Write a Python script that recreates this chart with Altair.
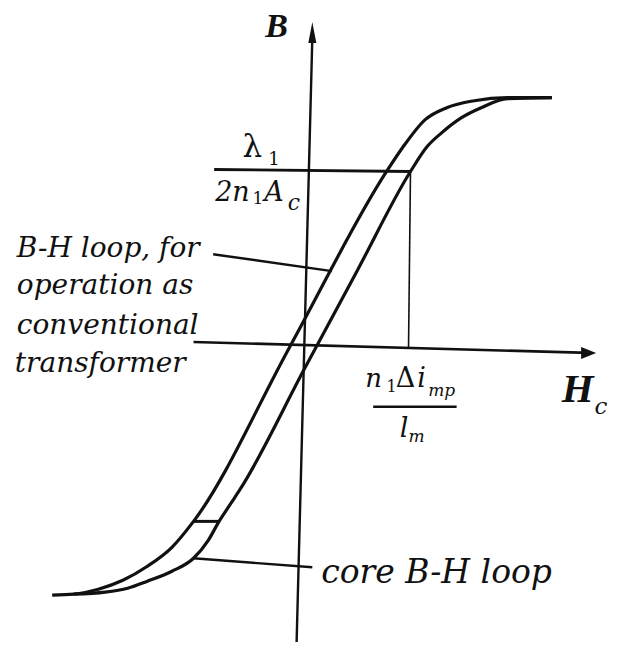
import altair as alt
import pandas as pd

# ---------------- data (normalised H, B units; origin at the axes' crossing) -------------
# left (descending) branch of the core B-H loop
left_H = [-2.57, -2.35, -2.10, -1.85, -1.60, -1.35, -1.13, -0.15, 0.83, 1.00, 1.23, 1.45, 1.73, 2.07, 2.52]
left_B = [-2.49, -2.48, -2.43, -2.34, -2.20, -2.01, -1.75, 0.00, 1.75, 2.00, 2.28, 2.40, 2.47, 2.50, 2.50]
# right (ascending) branch of the core B-H loop
right_H = [-2.35, -2.03, -1.80, -1.60, -1.35, -1.13, -0.98, -0.87, -0.75, -0.65, 0.00, 0.54, 1.08,
           1.25, 1.40, 1.60, 1.80, 2.07, 2.52]
right_B = [-2.48, -2.46, -2.42, -2.35, -2.25, -2.12, -1.94, -1.75, -1.57, -1.42, -0.22, 0.77, 1.76,
           2.01, 2.15, 2.30, 2.40, 2.49, 2.50]

# minor (transformer) loop closing segments: top and bottom
minor_top_H = [-0.92, 1.08]
minor_top_B = [1.78, 1.76]
minor_bot_H = [-1.13, -0.87]
minor_bot_B = [-1.75, -1.75]
# projection of the loop tip onto the H axis
tip_drop_H = [1.08, 1.06]
tip_drop_B = [1.76, -0.02]

# axes
B_axis_H = [0.08, -0.08]
B_axis_B = [3.10, -2.96]
H_axis_H = [-1.13, 2.90]
H_axis_B = [0.05, -0.06]

# leader lines
leader1_H = [-0.93, 0.28]
leader1_B = [0.93, 0.76]
leader2_H = [-1.13, 0.08]
leader2_B = [-2.12, -2.21]

# ---------------- frames --------------------------------------------------------------------
curves = pd.concat([
    pd.DataFrame({"H": left_H, "B": left_B, "branch": "left", "o": range(len(left_H))}),
    pd.DataFrame({"H": right_H, "B": right_B, "branch": "right", "o": range(len(right_H))}),
])

def seg(hs, bs, w):
    return {"H": hs[0], "B": bs[0], "H2": hs[1], "B2": bs[1], "w": w}

segments = pd.DataFrame([
    seg(minor_top_H, minor_top_B, 2.8),
    seg(minor_bot_H, minor_bot_B, 3.0),
    seg(tip_drop_H, tip_drop_B, 1.6),
    seg(B_axis_H, B_axis_B, 2.4),
    seg(H_axis_H, H_axis_B, 2.6),
    seg(leader1_H, leader1_B, 2.4),
    seg(leader2_H, leader2_B, 2.4),
])

xs = alt.Scale(domain=[-3.02, 2.98], nice=False, zero=False)
ys = alt.Scale(domain=[-2.96, 3.40], nice=False, zero=False)
X = alt.X("H:Q", scale=xs, axis=None)
Y = alt.Y("B:Q", scale=ys, axis=None)

ink = "#111111"

curve_layer = alt.Chart(curves).mark_line(
    interpolate="monotone", strokeWidth=3.2, color=ink
).encode(x=X, y=Y, detail="branch:N", order="o:Q")

seg_layer = alt.Chart(segments).mark_rule(color=ink).encode(
    x=X, y=Y, x2="H2:Q", y2="B2:Q", strokeWidth=alt.StrokeWidth("w:Q", scale=None)
)

arrow_up = alt.Chart(pd.DataFrame({"H": [0.08], "B": [3.155]})).mark_point(
    shape="M0,-1L0.38,1L-0.38,1Z", filled=True, fill=ink, stroke=None, opacity=1, size=441
).encode(x=X, y=Y)

arrow_right = alt.Chart(pd.DataFrame({"H": [2.895], "B": [-0.06]})).mark_point(
    shape="M1,0L-1,0.8L-1,-0.8Z", filled=True, fill=ink, stroke=None, opacity=1, size=225
).encode(x=X, y=Y)

# ---------------- text ----------------------------------------------------------------------
def text_layer(rows, font, style="normal", weight="normal"):
    df = pd.DataFrame(rows, columns=["t", "H", "B", "s"])
    return alt.Chart(df).mark_text(
        align="left", baseline="alphabetic", font=font, fontStyle=style,
        fontWeight=weight, color=ink
    ).encode(x=X, y=Y, text="t:N", size=alt.Size("s:Q", scale=None))

italic_rows = [
    ["B-H loop, for", -2.93, 0.90, 28],
    ["operation as", -2.93, 0.53, 28],
    ["conventional", -2.93, 0.13, 28],
    ["transformer", -2.95, -0.25, 28],
    ["core B-H loop", 0.17, -2.37, 33],
    ["2n", -0.91, 1.46, 27],
    ["A", -0.41, 1.46, 27],
    ["c", -0.17, 1.37, 22],
    ["n", 0.62, -0.40, 26],
    ["i", 1.15, -0.40, 27],
    ["mp", 1.26, -0.49, 17],
    ["l", 0.97, -0.90, 27],
    ["m", 1.06, -0.95, 17],
    ["c", 2.955, -0.67, 23],
]
upright_rows = [
    ["λ", -0.63, 1.91, 31],
    ["1", -0.37, 1.83, 18],
    ["1", -0.53, 1.43, 17],
    ["1", 0.835, -0.45, 16],
    ["Δ", 0.93, -0.40, 27],
]
bold_rows = [
    ["B", -0.40, 3.11, 34],
    ["H", 2.62, -0.55, 41],
]

frac_bar = alt.Chart(pd.DataFrame({"H": [0.70], "B": [-0.60], "H2": [1.55], "B2": [-0.60]})).mark_rule(
    color=ink, strokeWidth=2.4
).encode(x=X, y=Y, x2="H2:Q", y2="B2:Q")

chart = alt.layer(
    curve_layer,
    seg_layer,
    frac_bar,
    arrow_up,
    arrow_right,
    text_layer(italic_rows, "DejaVu Serif", "italic"),
    text_layer(upright_rows, "DejaVu Serif"),
    text_layer(bold_rows, "Liberation Serif", "italic", "bold"),
).properties(
    width=600, height=636, padding=0,
    autosize=alt.AutoSizeParams(type="fit", contains="padding"),
    background="white",
).configure_view(stroke=None)

chart.save("out.html", embed_options={"renderer": "svg", "actions": False})
